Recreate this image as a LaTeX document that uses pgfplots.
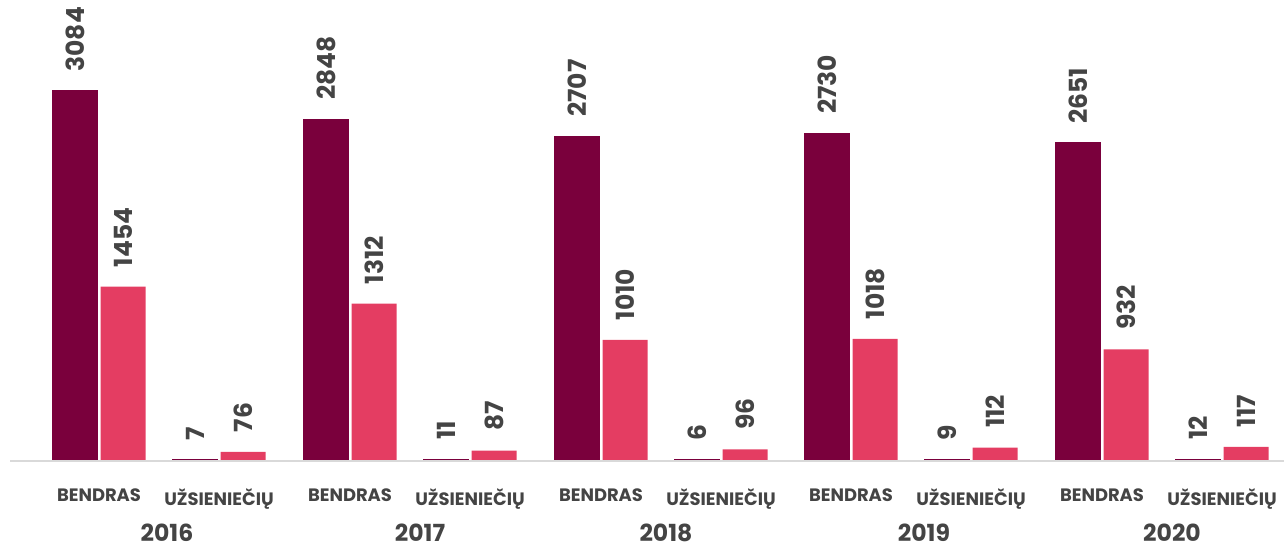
\documentclass[border=0pt]{standalone}
\usepackage{pgfplots}
\pgfplotsset{compat=1.18}
\usepackage{fontspec}
\setmainfont{Poppins}
\definecolor{bendras}{HTML}{7A003C}
\definecolor{rausva}{HTML}{E43D62}
\definecolor{txt}{HTML}{444444}
\definecolor{base}{HTML}{D9D9D9}

\begin{document}
\begin{tikzpicture}[
    yearlbl/.style={text=txt, inner sep=0pt, font=\bfseries\fontsize{6.7}{8}\selectfont, yshift=-0.72cm}]
  \begin{axis}[
    at={(0,0)}, anchor=south west,
    scale only axis,
    width=12.84cm, height=4.61cm,
    xmin=0, xmax=1284, ymin=0, ymax=3858,
    axis y line=none,
    axis x line*=bottom,
    x axis line style={draw=none},
    clip=false,
    ybar, bar width=45,
    major tick length=0pt,
    xtick={99,219,350,470,601,721,851,971,1102,1222},
    xticklabels={BENDRAS,UŽSIENIEČIŲ,BENDRAS,UŽSIENIEČIŲ,BENDRAS,UŽSIENIEČIŲ,
                 BENDRAS,UŽSIENIEČIŲ,BENDRAS,UŽSIENIEČIŲ},
    xticklabel style={anchor=north, yshift=-0.15cm, text=txt,
                      font=\bfseries\fontsize{5.1}{6}\selectfont},
    /pgf/number format/1000 sep={},
    /pgf/number format/assume math mode=true,
    nodes near coords,
    every node near coord/.append style={rotate=90, anchor=west, text=txt,
                      inner xsep=0.19cm,
                      font=\bfseries\fontsize{7.1}{9}\selectfont},
  ]
  % dark series: BENDRAS group, left bar
  \addplot[fill=bendras, draw=bendras, line width=0.018cm, bar shift=-24] coordinates {
    (99,3084) (219,7) (350,2848) (470,11) (601,2707) (721,6)
    (851,2730) (971,9) (1102,2651) (1222,12)};
  % pink series: right bar
  \addplot[fill=rausva, draw=none, bar shift=24] coordinates {
    (99,1454) (219,76) (350,1312) (470,87) (601,1010) (721,96)
    (851,1018) (971,112) (1102,932) (1222,117)};
  \draw[base, line width=0.02cm] (axis cs:10,0) -- (axis cs:1284,0);
  % year labels under each group
  \node[yearlbl] at (axis cs:167,0) {2016};
  \node[yearlbl] at (axis cs:420,0) {2017};
  \node[yearlbl] at (axis cs:666,0) {2018};
  \node[yearlbl] at (axis cs:924,0) {2019};
  \node[yearlbl] at (axis cs:1172,0) {2020};
  \end{axis}
  \pgfresetboundingbox
  \path (0,-0.85) rectangle (12.84,4.61);
\end{tikzpicture}
\end{document}
